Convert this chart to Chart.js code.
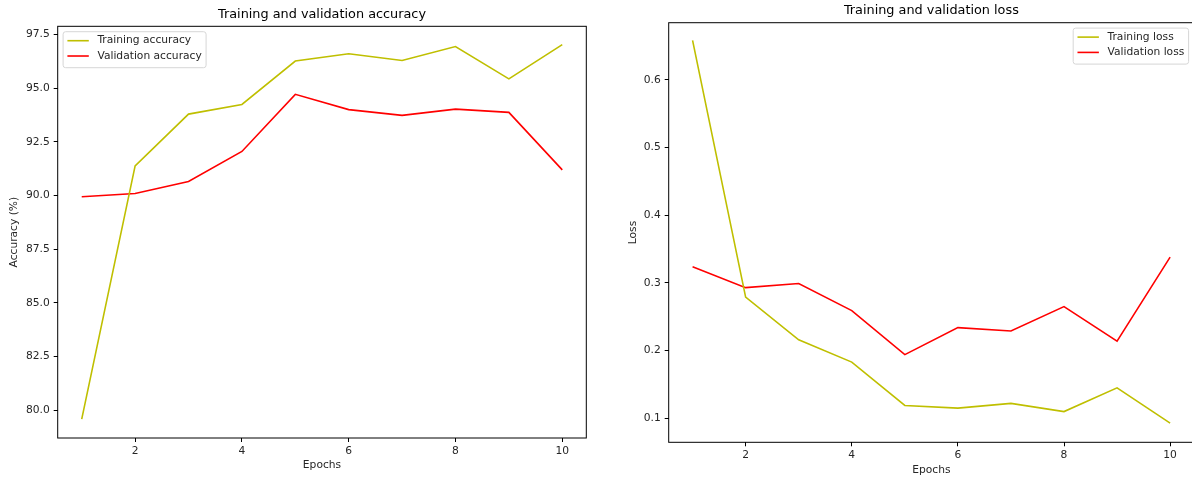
<!DOCTYPE html>
<html>
<head>
<meta charset="utf-8">
<script src="https://cdn.jsdelivr.net/npm/chart.js@4.4.1/dist/chart.umd.min.js"></script>
<style>
html,body{margin:0;padding:0;background:#fff;overflow:hidden;}
#left{position:absolute;left:0;top:0;width:600px;height:480px;}
#right{position:absolute;left:600px;top:0;width:594px;height:480px;}
</style>
</head>
<body>
<div id="left"><canvas id="accChart"></canvas></div>
<div id="right"><canvas id="lossChart"></canvas></div>
<script>
// values
const epochs = [1, 2, 3, 4, 5, 6, 7, 8, 9, 10];
const trainAcc = [79.58, 91.38, 93.79, 94.24, 96.26, 96.60, 96.29, 96.94, 95.43, 97.03];
const valAcc = [89.94, 90.09, 90.65, 92.05, 94.71, 94.00, 93.73, 94.02, 93.87, 91.19];
const trainLoss = [0.658, 0.279, 0.216, 0.183, 0.119, 0.115, 0.122, 0.110, 0.145, 0.093];
const valLoss = [0.324, 0.293, 0.299, 0.259, 0.194, 0.234, 0.229, 0.265, 0.214, 0.338];

const epochTicks = [2, 4, 6, 8, 10];
const accTicks = [80.0, 82.5, 85.0, 87.5, 90.0, 92.5, 95.0, 97.5];
const lossTicks = [0.1, 0.2, 0.3, 0.4, 0.5, 0.6];

const FAMILY = '"DejaVu Sans", sans-serif';
const FS = 10.7;
const TEXT = '#262626';
const OLIVE = '#bfbf00';
const RED = '#ff0000';

// matplotlib-like frame + boxed legend inside the axes
const frameLegend = {
    id: 'frameLegend',
    afterDraw(chart, args, opts) {
        const ctx = chart.ctx;
        const a = chart.chartArea;
        ctx.save();
        ctx.strokeStyle = '#000';
        ctx.lineWidth = 1;
        ctx.strokeRect(a.left, a.top, a.right - a.left, a.bottom - a.top);

        ctx.font = FS + 'px ' + FAMILY;
        const items = chart.data.datasets;
        let textW = 0;
        items.forEach(d => { textW = Math.max(textW, ctx.measureText(d.label).width); });
        const pad = 4.3, handle = 21.4, gap = 8.6, rowH = 15.3;
        const w = pad + handle + gap + textW + pad;
        const h = 36;
        const x = opts.align === 'right' ? a.right - 5.4 - w : a.left + 5.4;
        const y = a.top + 5.4;

        ctx.beginPath();
        ctx.roundRect(x, y, w, h, 2.5);
        ctx.fillStyle = 'rgba(255,255,255,0.8)';
        ctx.fill();
        ctx.strokeStyle = '#d6d6d6';
        ctx.stroke();

        items.forEach((d, i) => {
            const cy = y + 9 + i * rowH;
            ctx.beginPath();
            ctx.moveTo(x + pad, cy);
            ctx.lineTo(x + pad + handle, cy);
            ctx.strokeStyle = d.borderColor;
            ctx.lineWidth = 1.6;
            ctx.stroke();
            ctx.fillStyle = TEXT;
            ctx.textBaseline = 'middle';
            ctx.textAlign = 'left';
            ctx.fillText(d.label, x + pad + handle + gap, cy);
        });
        ctx.restore();
    }
};

function toPoints(vals) {
    return epochs.map((e, i) => ({ x: e, y: vals[i] }));
}

function build(id, s) {
    const font = { family: FAMILY, size: FS };
    const config = {
        type: 'line',
        data: {
            datasets: [{
                label: s.trainLabel,
                data: toPoints(s.train),
                borderColor: OLIVE,
                backgroundColor: OLIVE,
                borderWidth: 1.6,
                pointRadius: 0,
                tension: 0
            }, {
                label: s.valLabel,
                data: toPoints(s.val),
                borderColor: RED,
                backgroundColor: RED,
                borderWidth: 1.6,
                pointRadius: 0,
                tension: 0
            }]
        },
        options: {
            responsive: true,
            maintainAspectRatio: false,
            animation: false,
            devicePixelRatio: 1,
            layout: { padding: { left: 0, right: s.padRight, top: 0, bottom: 0 } },
            plugins: {
                legend: { display: false },
                tooltip: { enabled: false },
                title: {
                    display: true,
                    text: s.title,
                    fullSize: false,
                    color: '#000',
                    font: { family: FAMILY, size: 12.84, weight: 'normal' },
                    padding: { top: s.titleTop, bottom: s.titleBottom }
                },
                frameLegend: { align: s.legendAlign }
            },
            scales: {
                x: {
                    type: 'linear',
                    min: 0.55,
                    max: 10.45,
                    afterBuildTicks: sc => { sc.ticks = epochTicks.map(v => ({ value: v })); },
                    afterFit: sc => { sc.height = s.xHeight; },
                    grid: { drawOnChartArea: false, drawTicks: true, tickLength: 4, color: '#000' },
                    border: { display: false },
                    ticks: { autoSkip: false, maxRotation: 0, padding: 3, color: TEXT, font: font, callback: v => String(v) },
                    title: { display: true, text: 'Epochs', color: TEXT, font: font, padding: { top: 0, bottom: s.xTitleBottom } }
                },
                y: {
                    min: s.yMin,
                    max: s.yMax,
                    afterBuildTicks: sc => { sc.ticks = s.yTicks.map(v => ({ value: v })); },
                    afterFit: sc => { sc.width = s.yWidth; },
                    grid: { drawOnChartArea: false, drawTicks: true, tickLength: 4, color: '#000' },
                    border: { display: false },
                    ticks: { autoSkip: false, padding: 4, color: TEXT, font: font, callback: v => Number(v).toFixed(1) },
                    title: { display: true, text: s.yLabel, color: TEXT, font: font, padding: { top: s.yTitleTop, bottom: 0 } }
                }
            }
        },
        plugins: [frameLegend]
    };
    return new Chart(document.getElementById(id), config);
}

build('accChart', {
    title: 'Training and validation accuracy',
    yLabel: 'Accuracy (%)',
    trainLabel: 'Training accuracy',
    valLabel: 'Validation accuracy',
    train: trainAcc,
    val: valAcc,
    yMin: 78.70,
    yMax: 97.88,
    yTicks: accTicks,
    padRight: 13.7,
    titleTop: 7.3,
    titleBottom: 3.6,
    xHeight: 42,
    xTitleBottom: 8.6,
    yWidth: 57.7,
    yTitleTop: 8,
    legendAlign: 'left'
});

build('lossChart', {
    title: 'Training and validation loss',
    yLabel: 'Loss',
    trainLabel: 'Training loss',
    valLabel: 'Validation loss',
    train: trainLoss,
    val: valLoss,
    yMin: 0.0646,
    yMax: 0.6842,
    yTicks: lossTicks,
    padRight: 0,
    titleTop: 3.3,
    titleBottom: 4.0,
    xHeight: 37.7,
    xTitleBottom: 3.6,
    yWidth: 68.7,
    yTitleTop: 26.6,
    legendAlign: 'right'
});
</script>
</body>
</html>
